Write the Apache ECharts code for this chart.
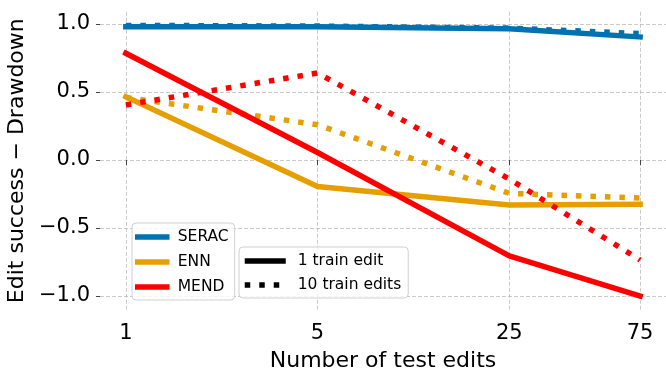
<!DOCTYPE html>
<html><head><meta charset="utf-8">
<script src="https://cdn.jsdelivr.net/npm/echarts@6/dist/echarts.min.js"></script>
<style>html,body{margin:0;padding:0;background:#fff}#c{width:666px;height:369px}</style>
</head><body><div id="c"></div>
<script>
const xValues = [1, 5, 25, 75];
const yTicks = [-1, -0.5, 0, 0.5, 1];
const seracOne = [0.98, 0.98, 0.965, 0.905];
const seracTen = [0.99, 0.985, 0.97, 0.93];
const ennOne = [0.465, -0.195, -0.33, -0.325];
const ennTen = [0.46, 0.26, -0.245, -0.28];
const mendOne = [0.785, 0.055, -0.705, -1.0];
const mendTen = [0.405, 0.64, -0.14, -0.735];

const FONT = 'DejaVu Sans';
const LW = 5.5;
const DOT = [5.5, 9];
const pairs = ys => xValues.map((x, i) => [x, ys[i]]);
function mk(name, color, ys, dotted) {
  return {
    type: 'line', name: name, data: pairs(ys), symbol: 'none', color: color,
    lineStyle: { color: color, width: LW, type: dotted ? DOT : 'solid', cap: dotted ? 'butt' : 'square', join: 'round' },
    emphasis: { disabled: true }, animation: false
  };
}
const fmt = v => (v < 0 ? '\u2212' : '') + Math.abs(v).toFixed(1);

const legendCommon = {
  orient: 'vertical', itemHeight: 14, selectedMode: false,
  borderColor: '#d0d0d0', borderWidth: 1, borderRadius: 4,
  backgroundColor: 'rgba(255,255,255,0.8)',
  itemStyle: { opacity: 0 },
  lineStyle: { width: LW }
};

const chart = echarts.init(document.getElementById('c'), null, { renderer: 'canvas' });
chart.setOption({
  animation: false,
  textStyle: { fontFamily: FONT },
  grid: { left: 100, right: 0, top: 11.8, bottom: 59.4, containLabel: false, outerBoundsMode: 'none' },
  xAxis: {
    type: 'log', logBase: 10, min: 0.805, max: 93.2,
    name: 'Number of test edits', nameLocation: 'middle', nameGap: 41,
    nameTextStyle: { fontFamily: FONT, fontSize: 22, color: '#000' },
    axisLine: { show: false },
    axisTick: { show: true, customValues: xValues, length: 5, lineStyle: { color: '#444', width: 1 } },
    axisLabel: { customValues: xValues, margin: 13, fontFamily: FONT, fontSize: 21, color: '#000', formatter: v => String(Math.round(v)) },
    splitLine: { show: true, lineStyle: { color: '#bdbdbd', width: 0.8, type: [4, 2] } },
    minorTick: { show: false }, minorSplitLine: { show: false }
  },
  yAxis: {
    type: 'value', min: -1.1, max: 1.09,
    name: 'Edit success \u2212 Drawdown', nameLocation: 'middle', nameGap: 65,
    nameTextStyle: { fontFamily: FONT, fontSize: 22, color: '#000' },
    axisLine: { show: false },
    axisTick: { show: true, customValues: yTicks, length: 4, lineStyle: { color: '#444', width: 1 } },
    axisLabel: { customValues: yTicks, margin: 10, fontFamily: FONT, fontSize: 21, color: '#000', formatter: fmt },
    splitLine: { show: true, lineStyle: { color: '#bdbdbd', width: 0.8, type: [4, 2] } }
  },
  legend: [
    Object.assign({}, legendCommon, {
      data: ['SERAC', 'ENN', 'MEND'], left: 132, top: 223,
      itemWidth: 29, itemGap: 9, padding: [6, 6, 5, 3],
      textStyle: { fontFamily: FONT, fontSize: 15.5, color: '#000', padding: [0, 0, 0, 6] }
    }),
    Object.assign({}, legendCommon, {
      data: ['1 train edit', '10 train edits'], left: 239, top: 247,
      itemWidth: 41, itemGap: 8, padding: [6, 7, 5, 3],
      textStyle: { fontFamily: FONT, fontSize: 15.5, color: '#000', padding: [0, 0, 0, 7] }
    })
  ],
  series: [
    mk('SERAC', '#0072B2', seracOne, false),
    mk('SERAC', '#0072B2', seracTen, true),
    mk('ENN', '#E69F00', ennOne, false),
    mk('ENN', '#E69F00', ennTen, true),
    mk('MEND', '#FF0000', mendOne, false),
    mk('MEND', '#FF0000', mendTen, true),
    { type: 'line', name: '1 train edit', data: [], symbol: 'none', color: '#000', lineStyle: { color: '#000', width: LW, type: 'solid', cap: 'butt' } },
    { type: 'line', name: '10 train edits', data: [], symbol: 'none', color: '#000', lineStyle: { color: '#000', width: LW, type: DOT, cap: 'butt' } }
  ]
});
</script></body></html>
